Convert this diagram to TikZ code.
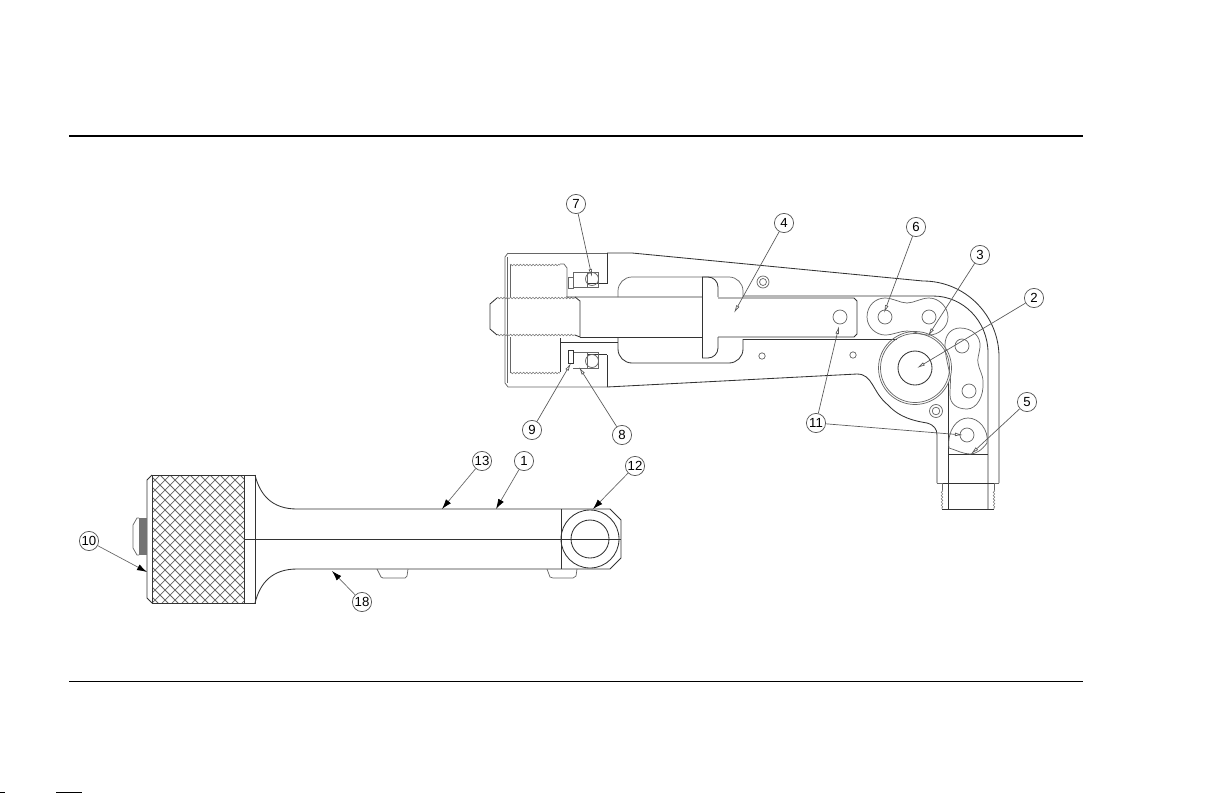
\documentclass[tikz,border=0pt]{standalone}
\usepackage{fontspec}
\setmainfont{Liberation Sans}
\usetikzlibrary{positioning,arrows.meta,decorations.pathmorphing}

\begin{document}
\begin{tikzpicture}[x=0.5pt,y=-0.5pt,
    part/.style={line width=0.42pt,draw=black!80},
    thinpart/.style={line width=0.36pt,draw=black!60},
    thread/.style={line width=0.3pt,draw=black!50,decorate,decoration={zigzag,segment length=1.6pt,amplitude=0.4pt}},
    balloon/.style={circle,draw=black!65,line width=0.36pt,fill=white,minimum size=9.6pt,inner sep=0pt,font=\fontsize{6.6}{7}\selectfont},
    leader/.style={line width=0.34pt,draw=black!65,-{Latex[open,length=4pt,width=1.8pt]}},
    blackleader/.style={line width=0.34pt,draw=black!60,-{Latex[black,length=5pt,width=3.2pt]}}]
    \useasboundingbox (0,0) rectangle (1225,793);
    \draw[line width=1pt,black] (69,136) -- (1083,136);
    \draw[line width=0.5pt,black] (69,681) -- (1083,681);
    \draw[line width=0.5pt,black] (0,792.5) -- (5,792.5) (56,792.5) -- (82,792.5);

    \draw[part] (607,253) -- (632,253) -- (923,281) .. controls (965,281) and (999,315) .. (999,357) -- (999,483);
    \draw[thinpart] (508,253) -- (607,253);
    \draw[thinpart] (508,253) -- (505,257) -- (505,383) -- (508,387) -- (607,387);
    \draw[part] (607,387) -- (857,374) .. controls (873,374) and (872,392) .. (888,405) .. controls (900,418) and (915,421) .. (927,423) .. controls (934,425) and (937,429) .. (937,435) -- (937,483);
    \draw[thinpart] (507,257) -- (507,383);
    \draw[part] (743,296) -- (933,296) .. controls (963,296) and (988,321) .. (988,353) -- (988,509);
    \draw[part] (948,382) -- (948,509);
    \draw[part] (948,454) -- (988,454);
    \draw[part] (937,483) -- (999,483);
    \draw[thinpart] (937,483) -- (942,483) -- (942,490);
    \draw[thinpart] (999,483) -- (994,483) -- (994,490);
    \draw[thread] (942,490) -- (942,509);
    \draw[thread] (994,490) -- (994,509);
    \draw[part] (942,509) -- (994,509);

    \draw[thread] (510,265) -- (560,265);
    \draw[thread] (510,373) -- (560,373);
    \draw[thinpart] (510,265) -- (510,298) (510,337) -- (510,373);
    \draw[thinpart] (560,264) -- (564,264) -- (567,268) -- (567,297);
    \draw[part] (560,338) -- (560,372);
    \draw[thread] (497,298) -- (575,298);
    \draw[thread] (497,335) -- (575,335);
    \draw[part] (497,298) -- (490,304) -- (490,329) -- (497,335);
    \draw[part] (575,297) -- (580,301) -- (580,337) -- (575,335);
    \draw[part] (566,297) -- (702,297) (718,298) -- (854,298) -- (857,301) -- (857,334) -- (854,337) -- (718,337);
    \draw[part] (580,337) -- (702,337);
    \draw[part] (560,342) -- (618,342);

    \draw[part] (607,253) -- (607,283) -- (587,283);
    \draw[thinpart] (573,272) -- (598,272) -- (598,287) -- (573,287) -- cycle;
    \draw[thinpart] (587,272) -- (587,287);
    \draw[thinpart] (568,277) rectangle (573,288);
    \draw[thinpart] (592,279) circle (6.5);
    \draw[part] (607,355) -- (607,387);
    \draw[part] (587,354) -- (607,354);
    \draw[thinpart] (573,352) -- (598,352) -- (598,368) -- (573,368);
    \draw[thinpart] (587,352) -- (587,368);
    \draw[part] (568,350) rectangle (573,363);
    \draw[thinpart] (592,361) circle (6.5);

    \draw[thinpart,rounded corners=7pt] (618,297) -- (618,277) -- (743,277) -- (743,297);
    \draw[part,rounded corners=7pt] (618,337) -- (618,363) -- (743,363) -- (743,339);
    \draw[part] (743,339) -- (897,339);
    \draw[part,rounded corners=5pt] (702,277) -- (718,277) -- (718,297);
    \draw[part,rounded corners=5pt] (718,337) -- (718,358) -- (702,358);
    \draw[part] (702,277) -- (702,358);

    \draw[thinpart] (763,282) circle (6) (763,282) circle (3.5);
    \draw[thinpart] (762,356) circle (3.2) (853,355) circle (3.2) (840,317) circle (7);
    \draw[thinpart] (936,411) circle (6.5) (936,411) circle (3.8);

    \draw[thinpart] (867,317) .. controls (867,305) and (876,298) .. (885,298) .. controls (893,298) and (900,303) .. (907,303) .. controls (914,303) and (921,298) .. (929,298) .. controls (939,298) and (948,307) .. (948,317) .. controls (948,327) and (939,335) .. (929,335) .. controls (921,335) and (914,331) .. (907,331) .. controls (900,331) and (893,335) .. (885,335) .. controls (876,335) and (867,327) .. (867,317);
    \draw[thinpart] (945,345) .. controls (945,335) and (951,328) .. (960,328) .. controls (972,328) and (981,336) .. (980,347) .. controls (979,355) and (977,359) .. (978,363) .. controls (979,370) and (983,374) .. (983,382) .. controls (984,396) and (977,409) .. (967,409) .. controls (957,409) and (950,404) .. (950,395) .. controls (950,385) and (951,380) .. (950,375) .. controls (948,365) and (945,355) .. (945,345);
    \draw[thinpart] (949,448) .. controls (947,430) and (957,418) .. (968,418) .. controls (979,418) and (989,430) .. (987,443) .. controls (982,450) and (976,454) .. (970,454) .. controls (963,454) and (956,450) .. (949,448);
    \draw[thinpart] (885,317) circle (7) (929,317) circle (7) (962,346) circle (7) (969,391) circle (7) (967,435) circle (7);
    \draw[thinpart] (915,368) circle (36.5);
    \draw[thinpart] (915,368) circle (34.5);
    \draw[part] (915,368) circle (17);

    \begin{scope}
        \clip (152,475) rectangle (244,603);
        \foreach \i in {0,10,...,360} {
            \draw[line width=0.36pt,black!60] (\i+15,470) -- (\i+155,610);
            \draw[line width=0.36pt,black!60] (\i+15,470) -- (\i-125,610);
        }
    \end{scope}
    \draw[part] (152,475) rectangle (244,603);
    \draw[part] (244,475) -- (255,475) -- (255,603) -- (244,603);
    \draw[part] (152,475) -- (147,480) -- (147,598) -- (152,603);
    \fill[black!55] (139,518) rectangle (146.5,555);
    \draw[thinpart] (139,518) -- (137,518) -- (133,525) -- (133,548) -- (137,555) -- (139,555);
    \draw[part] (255,475) .. controls (260,495) and (272,509) .. (297,509) -- (610,509) -- (621,520) -- (621,558) -- (610,569) -- (297,569) .. controls (272,569) and (260,583) .. (255,603);
    \draw[part] (244,539) -- (621,539);
    \draw[part] (561,509) -- (561,569);
    \draw[part] (590,539) circle (29) (590,539) circle (19);
    \draw[thinpart] (377,569) -- (381,577) -- (383,578) -- (405,578) -- (407,576) -- (408,569);
    \draw[thinpart] (547,569) -- (550,577) -- (553,578) -- (573,578) -- (576,576) -- (577,569);

    \node[balloon] (n7) at (576,204) {7};
    \node[balloon] (n4) at (784,223) {4};
    \node[balloon] (n6) at (916,227) {6};
    \node[balloon] (n3) at (980,255) {3};
    \node[balloon] (n2) at (1034,298) {2};
    \node[balloon] (n5) at (1027,402) {5};
    \node[balloon] (n11) at (816,423) {11};
    \node[balloon] (n9) at (532,430) {9};
    \node[balloon] (n8) at (622,435) {8};
    \node[balloon] (n10) at (89,541) {10};
    \node[balloon] (n18) at (362,602) {18};
    \node[balloon] (n13) at (482,461) {13};
    \node[balloon] (n1) at (524,461) {1};
    \node[balloon] (n12) at (635,466) {12};

    \coordinate (t7) at (592,277);
    \coordinate (t4) at (734,313);
    \coordinate (t6) at (884,313);
    \coordinate (t3) at (928,336);
    \coordinate (t2) at (917,368);
    \coordinate (t5) at (971,454);
    \coordinate (t11a) at (839,326);
    \coordinate (t11b) at (963,435);
    \coordinate (t9) at (571,363);
    \coordinate (t8) at (579,367);
    \coordinate (t10) at (147,572);
    \coordinate (t18) at (332,571);
    \coordinate (t13) at (442,509);
    \coordinate (t1) at (496,509);
    \coordinate (t12) at (593,509);

    \draw[leader] (n7) -- (t7);
    \draw[leader] (n4) -- (t4);
    \draw[leader] (n6) -- (t6);
    \draw[leader] (n3) -- (t3);
    \draw[leader] (n2) -- (t2);
    \draw[leader] (n5) -- (t5);
    \draw[leader] (n11) -- (t11a);
    \draw[leader] (n11) -- (t11b);
    \draw[leader] (n9) -- (t9);
    \draw[leader] (n8) -- (t8);
    \draw[blackleader] (n10) -- (t10);
    \draw[blackleader] (n18) -- (t18);
    \draw[blackleader] (n13) -- (t13);
    \draw[blackleader] (n1) -- (t1);
    \draw[blackleader] (n12) -- (t12);
\end{tikzpicture}
\end{document}
